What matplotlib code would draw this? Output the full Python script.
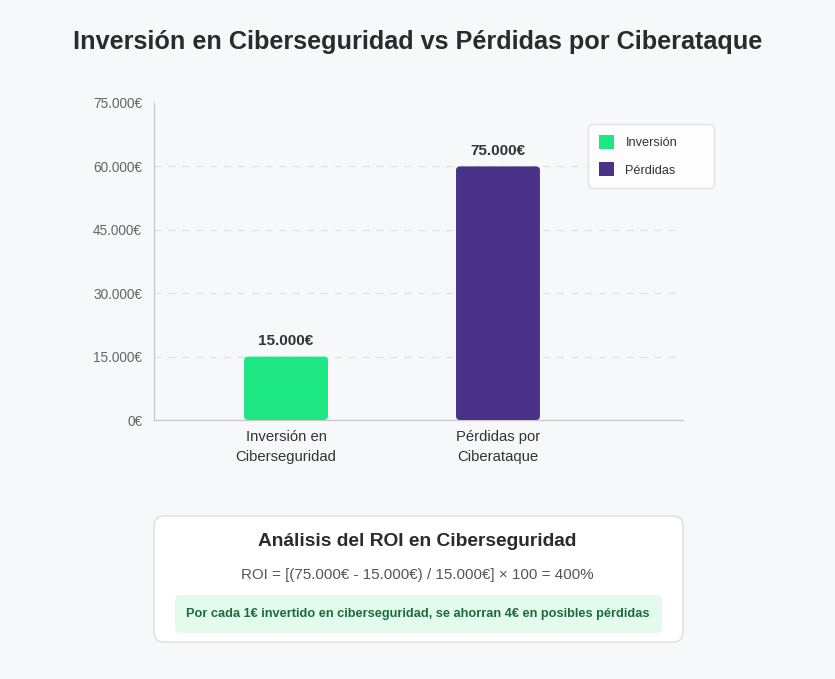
import matplotlib
matplotlib.use("Agg")
import matplotlib.pyplot as plt
from matplotlib.patches import FancyBboxPatch, Patch

plt.rcParams['font.family'] = ['Liberation Sans', 'DejaVu Sans']

# datos
categorias = ['Inversión en\nCiberseguridad', 'Pérdidas por\nCiberataque']
series = ['Inversión', 'Pérdidas']
valores = [15000, 60000]
etiquetas_valor = ['15.000€', '75.000€']
colores = ['#1de783', '#4a3289']
yticks = [0, 15000, 30000, 45000, 60000, 75000]
ytick_labels = ['0€', '15.000€', '30.000€', '45.000€', '60.000€', '75.000€']

fondo = '#f7f8fa'
W, H = 835, 679
fig = plt.figure(figsize=(W / 100, H / 100), dpi=100, facecolor=fondo)

ax_l, ax_b, ax_w, ax_h = 154 / W, 1 - 420 / H, 529 / W, 317 / H
ax = fig.add_axes([ax_l, ax_b, ax_w, ax_h])
ax.set_facecolor(fondo)

xmin, xmax = -0.623, 1.873
ax.set_xlim(xmin, xmax)
ax.set_ylim(0, 75000)

x = list(range(len(categorias)))
barras = ax.bar(x, valores, width=0.396, color=colores)

# barras con esquinas redondeadas
px_x = ax_w * W / (xmax - xmin)
px_y = ax_h * H / 75000
aspecto = px_x / px_y
for b in barras:
    b.set_visible(False)
    p = FancyBboxPatch((b.get_x(), b.get_y()), b.get_width(), b.get_height(),
                       boxstyle='round,pad=0,rounding_size=%f' % (4 / px_x),
                       mutation_aspect=aspecto, fc=b.get_facecolor(), ec='none', zorder=3)
    ax.add_patch(p)

for xi, v, t in zip(x, valores, etiquetas_valor):
    ax.annotate(t, (xi, v), xytext=(0, 6), textcoords='offset points',
                ha='center', va='bottom', fontsize=11, fontweight='bold', color='#333333')

ax.set_yticks(yticks)
ax.set_yticklabels(ytick_labels)
ax.set_xticks(x)
ax.set_xticklabels(categorias, linespacing=1.55)
ax.tick_params(axis='y', length=0, pad=8.5, labelsize=9.8, labelcolor='#666666')
ax.tick_params(axis='x', length=0, pad=7.5, labelsize=10.7, labelcolor='#333333')

ax.yaxis.grid(True, color='#e3e3e3', linestyle=(0, (5, 5)), linewidth=1)
ax.get_ygridlines()[-1].set_visible(False)
ax.get_ygridlines()[0].set_visible(False)
ax.set_axisbelow(True)

for s in ['top', 'right']:
    ax.spines[s].set_visible(False)
for s in ['left', 'bottom']:
    ax.spines[s].set_color('#cccccc')
    ax.spines[s].set_linewidth(1)

handles = [Patch(facecolor=c, edgecolor='none', label=s) for c, s in zip(colores, series)]
leg = ax.legend(handles=handles, loc='upper left', bbox_to_anchor=(0.82, 0.934, 0.238, 0.0),
                mode='expand', borderaxespad=0, fontsize=9.2, handlelength=1.2, handleheight=1.3,
                handletextpad=0.9, labelspacing=1.05, borderpad=0.85,
                frameon=True, fancybox=True, edgecolor='#dddddd', facecolor='white')
leg.get_frame().set_linewidth(1)
leg.get_frame().set_boxstyle('round,pad=0,rounding_size=0.4')
for t in leg.get_texts():
    t.set_color('#333333')

fig.text(0.5, 1 - 42 / H, 'Inversión en Ciberseguridad vs Pérdidas por Ciberataque',
         ha='center', va='center', fontsize=18.2, fontweight='bold', color='#2b2b2b')

# panel ROI
panel = FancyBboxPatch((1.54, 0.37), 5.29, 1.26, boxstyle='round,pad=0,rounding_size=0.1',
                       transform=fig.dpi_scale_trans, fc='white', ec='#dddddd', lw=1)
fig.patches.append(panel)
caja = FancyBboxPatch((1.75, 0.46), 4.87, 0.38, boxstyle='round,pad=0,rounding_size=0.05',
                      transform=fig.dpi_scale_trans, fc='#e3fbec', ec='none')
fig.patches.append(caja)

inversion, perdidas = 15000, 75000
roi = (perdidas - inversion) / inversion * 100
fig.text(0.5, 1 - 541 / H, 'Análisis del ROI en Ciberseguridad', ha='center', va='center',
         fontsize=13.8, fontweight='bold', color='#2b2b2b')
fig.text(0.5, 1 - 575 / H, 'ROI = [(75.000€ - 15.000€) / 15.000€] × 100 = %d%%' % roi,
         ha='center', va='center', fontsize=10.9, color='#555555')
fig.text(0.5, 1 - 614 / H, 'Por cada 1€ invertido en ciberseguridad, se ahorran 4€ en posibles pérdidas',
         ha='center', va='center', fontsize=9.2, fontweight='bold', color='#1b6b3d')

fig.savefig('out.png', dpi=100, facecolor=fondo)
